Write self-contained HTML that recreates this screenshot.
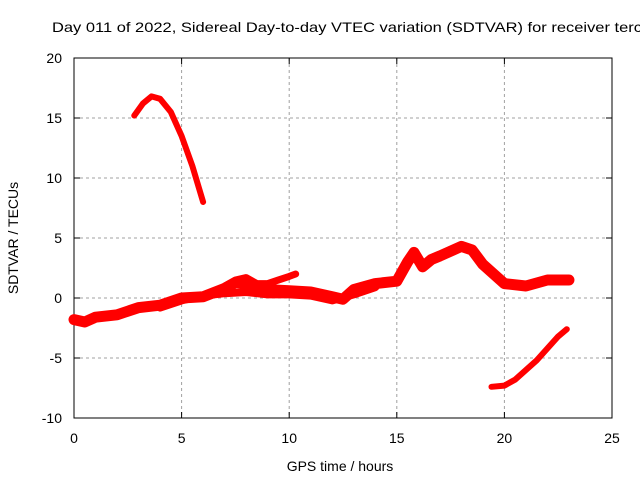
<!DOCTYPE html>
<html><head><meta charset="utf-8"><style>
body{margin:0;background:#fff;width:640px;height:480px;overflow:hidden}
svg text{font-family:"Liberation Sans",sans-serif;font-size:14px;fill:#000}
</style></head><body>
<svg id="c" width="640" height="480">
<text x="52" y="32" textLength="590" lengthAdjust="spacingAndGlyphs">Day 011 of 2022, Sidereal Day-to-day VTEC variation (SDTVAR) for receiver terc</text>
<g id="grid"></g><g id="axes"></g><g id="data"></g>
<text x="340" y="471" text-anchor="middle">GPS time / hours</text>
<text transform="translate(18,238) rotate(-90)" text-anchor="middle">SDTVAR / TECUs</text>
</svg>
<script>
const xTicks=[0,5,10,15,20,25];
const yTicks=[-10,-5,0,5,10,15,20];
const mainHours=[0,0.5,1,2,3,4,5,6,7,7.5,8,8.5,9,10,11,12,12.5,13,14,15,15.5,15.8,16.2,16.6,17,18,18.5,19,19.5,20,21,22,23];
const mainValues=[-1.8,-2,-1.6,-1.4,-0.8,-0.6,0,0.1,0.8,1.3,1.2,0.8,0.7,0.6,0.5,0.1,-0.1,0.7,1.2,1.4,3,3.8,2.6,3.2,3.5,4.3,4,2.8,2,1.2,1,1.5,1.5];
const branchHours=[7,7.5,8,8.5,9,9.5,10,10.3];
const branchValues=[1.0,1.5,1.7,1.2,1.2,1.5,1.8,2.0];
const lowHours=[4,5,6,7,8,9,10,11,12,13,14];
const lowValues=[-0.8,-0.2,0.2,0.4,0.5,0.3,0.3,0.2,-0.2,0.3,0.9];
const peakHours=[2.8,3.2,3.6,4,4.5,5,5.5,6];
const peakValues=[15.2,16.2,16.8,16.6,15.5,13.5,11,8];
const tailHours=[19.4,20,20.5,21,21.5,22,22.5,22.9];
const tailValues=[-7.4,-7.3,-6.8,-6,-5.2,-4.2,-3.2,-2.6];
const X=h=>74+h*21.52, Y=v=>298-v*12;
const NS='http://www.w3.org/2000/svg';
function mk(t,p,a){const e=document.createElementNS(NS,t);for(const k in a)e.setAttribute(k,a[k]);p.appendChild(e);return e;}
const g=document.getElementById('grid'),ax=document.getElementById('axes'),d=document.getElementById('data');
xTicks.forEach(t=>{
 if(t>0&&t<25){const l=mk('line',g,{x1:X(t),x2:X(t),y1:58,y2:418,stroke:'#a0a0a0','stroke-dasharray':'3,3'});
 
 }
 mk('line',ax,{x1:X(t),x2:X(t),y1:418,y2:412,stroke:'#000'});
 mk('line',ax,{x1:X(t),x2:X(t),y1:58,y2:64,stroke:'#000'});
 const tx=mk('text',ax,{x:X(t),y:443,'text-anchor':'middle'});tx.textContent=t;
 
 
});
yTicks.forEach(t=>{
 if(t>-10&&t<20){const l=mk('line',g,{x1:74,x2:612,y1:Y(t),y2:Y(t),stroke:'#a0a0a0','stroke-dasharray':'3,3'});
 
 }
 mk('line',ax,{x1:74,x2:80,y1:Y(t),y2:Y(t),stroke:'#000'});
 mk('line',ax,{x1:606,x2:612,y1:Y(t),y2:Y(t),stroke:'#000'});
 const tx=mk('text',ax,{x:62,y:Y(t)+5,'text-anchor':'end'});tx.textContent=t;
 
 
});
const fr=mk('rect',ax,{x:74,y:58,width:538,height:360,fill:'none',stroke:'#000'});


function series(hs,vs,w,name){
 const pts=hs.map((h,i)=>X(h)+','+Y(vs[i])).join(' ');
 const p=mk('polyline',d,{points:pts,fill:'none',stroke:'#ff0000','stroke-width':w,'stroke-linejoin':'round','stroke-linecap':'round'});
 
 
}
series(mainHours,mainValues,11,'sdtvar-main-series');
series(branchHours,branchValues,7,'sdtvar-branch-series');
series(lowHours,lowValues,8,'sdtvar-low-series');
series(peakHours,peakValues,6,'sdtvar-peak-series');
series(tailHours,tailValues,6,'sdtvar-tail-series');
</script>
</body></html>
